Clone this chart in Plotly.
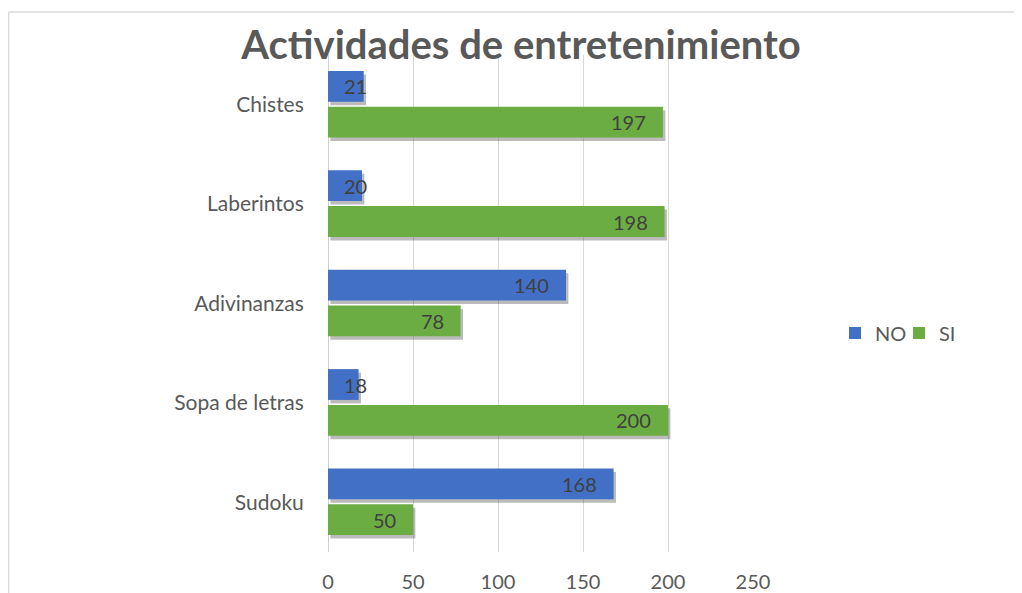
import plotly.graph_objects as go

# ---- data ----
categories = ["Sudoku", "Sopa de letras", "Adivinanzas", "Laberintos", "Chistes"]
no_values = [168, 18, 140, 20, 21]
si_values = [50, 200, 78, 198, 197]
series_names = ["NO", "SI"]
x_ticks = [0, 50, 100, 150, 200, 250]
title_text = "Actividades de entretenimiento"

# ---- layout constants (page body has an 8px margin) ----
W, H = 1014, 585
ML, MR, MT, MB = 320, 269, 47, 41
PW, PH = W - ML - MR, H - MT - MB
FONT = "Lato, 'Open Sans', sans-serif"
TXT = "#595959"
LBL = "#404040"
BLUE = "#4270C6"
GREEN = "#6BAD42"
SHADOW = "rgba(60,60,60,0.35)"

BW = 0.31
NO_OFF = 0.03
SI_OFF = -0.33
SH_DY = -0.035
SH_DX = 1.4

ypos = list(range(len(categories)))

fig = go.Figure()

# shadows
for vals, off in ((si_values, SI_OFF), (no_values, NO_OFF)):
    fig.add_trace(go.Bar(
        y=ypos, x=vals, base=SH_DX, orientation="h", width=BW, offset=off + SH_DY,
        marker=dict(color=SHADOW, line=dict(width=0)), showlegend=False, hoverinfo="skip"))

fig.add_trace(go.Bar(
    y=ypos, x=si_values, orientation="h", width=BW, offset=SI_OFF, name=series_names[1],
    marker=dict(color=GREEN, line=dict(width=0)), legendrank=2, hoverinfo="skip"))
fig.add_trace(go.Bar(
    y=ypos, x=no_values, orientation="h", width=BW, offset=NO_OFF, name=series_names[0],
    marker=dict(color=BLUE, line=dict(width=0)), legendrank=1, hoverinfo="skip"))

annotations = []
for vals, off in ((no_values, NO_OFF), (si_values, SI_OFF)):
    for i, v in enumerate(vals):
        yc = i + off + BW / 2
        if v * PW / 250 < 56:
            annotations.append(dict(x=0, y=yc, xref="x", yref="y", text=str(v),
                                    xanchor="left", yanchor="middle", xshift=14,
                                    showarrow=False, font=dict(family=FONT, size=20, color=LBL)))
        else:
            annotations.append(dict(x=v, y=yc, xref="x", yref="y", text=str(v),
                                    xanchor="right", yanchor="middle", xshift=-15,
                                    showarrow=False, font=dict(family=FONT, size=20, color=LBL)))


def px_x(px):
    return (px - ML) / PW


def px_y(py):
    return (H - MB - py) / PH


shapes = [
    dict(type="line", xref="paper", yref="paper", x0=px_x(0.5), x1=px_x(W + 5),
         y0=px_y(4), y1=px_y(4), line=dict(color="#d9d9d9", width=1.5)),
    dict(type="line", xref="paper", yref="paper", x0=px_x(0.5), x1=px_x(0.5),
         y0=px_y(4), y1=px_y(H + 5), line=dict(color="#d9d9d9", width=1.5)),
]

fig.update_layout(
    width=W, height=H,
    margin=dict(l=ML, r=MR, t=MT, b=MB, autoexpand=False),
    paper_bgcolor="white", plot_bgcolor="white",
    barmode="overlay",
    title=dict(text="<b>" + title_text + "</b>", x=513 / W, xref="container", xanchor="center",
               y=1 - 37 / H, yref="container", yanchor="middle",
               font=dict(family=FONT, size=40, color=TXT)),
    font=dict(family=FONT, size=20, color=TXT),
    xaxis=dict(range=[0, 250], tickvals=x_ticks, ticktext=[str(t) for t in x_ticks],
               showgrid=True, gridcolor="#d9d9d9", gridwidth=1, zeroline=True,
               zerolinecolor="#d0d0d0", zerolinewidth=1, showline=False,
               ticks="outside", ticklen=12, tickcolor="rgba(0,0,0,0)",
               tickfont=dict(family=FONT, size=20, color=TXT), fixedrange=True),
    yaxis=dict(range=[-0.5, len(categories) - 0.5], tickvals=ypos, ticktext=categories,
               showgrid=False, zeroline=False, showline=False,
               ticks="outside", ticklen=19, tickcolor="rgba(0,0,0,0)",
               tickfont=dict(family=FONT, size=21, color=TXT), fixedrange=True),
    legend=dict(orientation="h", x=px_x(827), y=px_y(325), xanchor="left", yanchor="middle",
                font=dict(family=FONT, size=20, color=TXT), bgcolor="rgba(0,0,0,0)",
                itemwidth=30, tracegroupgap=0, entrywidth=19, entrywidthmode="pixels"),
    annotations=annotations,
    shapes=shapes,
    showlegend=True,
)

fig.write_html("out.html")
